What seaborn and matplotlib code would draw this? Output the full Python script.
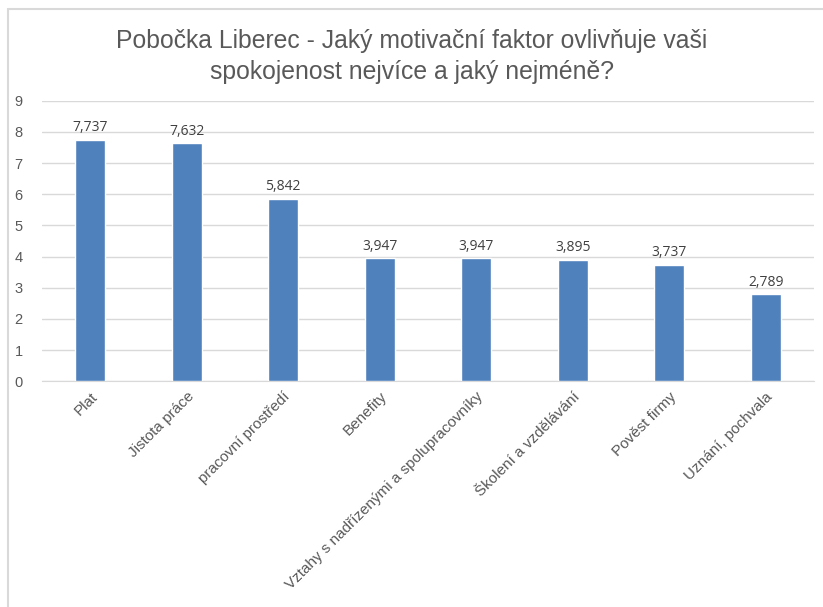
import matplotlib
matplotlib.use("Agg")
import matplotlib.pyplot as plt
import seaborn as sns
import pandas as pd
from matplotlib.lines import Line2D

# data
faktory = ["Plat", "Jistota práce", "pracovní prostředí", "Benefity",
           "Vztahy s nadřízenými a spolupracovníky", "Školení a vzdělávání",
           "Pověst firmy", "Uznání, pochvala"]
hodnoty = [7.737, 7.632, 5.842, 3.947, 3.947, 3.895, 3.737, 2.789]
y_ticks = [0, 1, 2, 3, 4, 5, 6, 7, 8, 9]

df = pd.DataFrame({"faktor": faktory, "hodnota": hodnoty})

sns.set_style("white")
plt.rcParams["font.family"] = ["Liberation Sans", "DejaVu Sans"]

fig = plt.figure(figsize=(8.23, 6.07), dpi=100)
ax = fig.add_axes([0.051, 0.372, 0.938, 0.462])

sns.barplot(data=df, x="faktor", y="hodnota", color="#4F81BD", width=0.31,
            saturation=1, ax=ax, zorder=3)

ax.set_ylim(0, 9)
ax.set_yticks(y_ticks)
ax.set_xlim(-0.5, len(faktory) - 0.5)
ax.grid(axis="y", color="#D9D9D9", linewidth=1, zorder=0)
for s in ["top", "right", "left"]:
    ax.spines[s].set_visible(False)
ax.spines["bottom"].set_color("#D9D9D9")
ax.tick_params(axis="both", length=0, colors="#595959", labelsize=10.5)
ax.tick_params(axis="x", labelsize=11, pad=6)
ax.tick_params(axis="y", pad=14)
ax.set_xticks(range(len(faktory)))
ax.set_xticklabels(faktory, rotation=45, ha="right", rotation_mode="anchor")
ax.set_xlabel("")
ax.set_ylabel("")

for i, v in enumerate(hodnoty):
    ax.text(i, v + 0.15, f"{v:.3f}".replace(".", ","), ha="center", va="bottom",
            fontsize=10, color="#404040", family=["Open Sans", "DejaVu Sans"])

fig.text(0.5, 0.907, "Pobočka Liberec - Jaký motivační faktor ovlivňuje vaši\nspokojenost nejvíce a jaký nejméně?",
         ha="center", va="center", fontsize=17.8, color="#595959", linespacing=1.38)

# chart frame (left and top edge)
fig.add_artist(Line2D([8 / 823, 8 / 823], [0, 1 - 9 / 607], color="#D9D9D9", linewidth=1.5))
fig.add_artist(Line2D([8 / 823, 1], [1 - 9 / 607, 1 - 9 / 607], color="#D9D9D9", linewidth=1.5))

fig.savefig("out.png", dpi=100)
